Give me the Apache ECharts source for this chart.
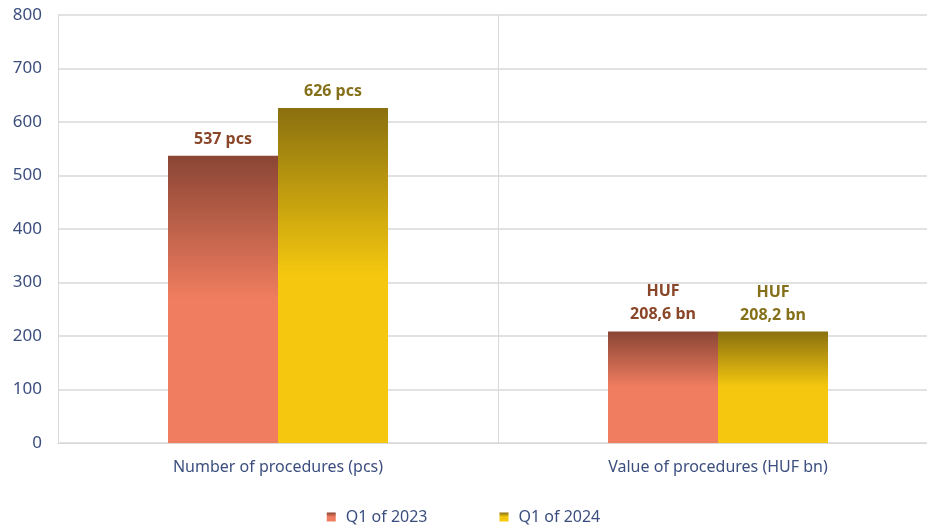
<!DOCTYPE html>
<html>
<head>
<meta charset="utf-8">
<script src="https://cdn.jsdelivr.net/npm/echarts@6/dist/echarts.min.js"></script>
<style>
  html, body { margin: 0; padding: 0; background: #fff; }
  #main { width: 927px; height: 529px; }
</style>
</head>
<body>
<div id="main"></div>
<script>
// chart data
const categories = ["Number of procedures (pcs)", "Value of procedures (HUF bn)"];
const q2023 = [537, 208.6];
const q2024 = [626, 208.2];
const labels2023 = ["537 pcs", "HUF\n208,6 bn"];
const labels2024 = ["626 pcs", "HUF\n208,2 bn"];
const seriesNames = ["Q1 of 2023", "Q1 of 2024"];

const textColor = "#3b4e7e";
const font = "Noto Sans";

function grad(top, bottom) {
  return new echarts.graphic.LinearGradient(0, 0, 0, 1, [
    { offset: 0, color: top },
    { offset: 0.5, color: bottom },
    { offset: 1, color: bottom }
  ]);
}

var myChart = echarts.init(document.getElementById("main"));
var option = {
  animation: false,
  grid: { left: 58, top: 15, bottom: 86, right: -11, outerBoundsMode: "none", containLabel: false },
  legend: {
    bottom: -1,
    left: "center",
    itemWidth: 9,
    itemHeight: 9,
    itemGap: 72,
    icon: "rect",
    textStyle: { color: textColor, fontSize: 16, fontFamily: font, padding: [0, 0, 0, 5] },
    data: seriesNames
  },
  xAxis: {
    type: "category",
    data: categories,
    axisLine: { lineStyle: { color: "#d9d9d9", width: 1 } },
    axisTick: { show: false },
    splitLine: { show: true, lineStyle: { color: "#d9d9d9" } },
    axisLabel: { color: textColor, fontSize: 16, fontFamily: font, margin: 16 }
  },
  yAxis: {
    type: "value",
    min: 0,
    max: 800,
    interval: 100,
    axisLine: { show: true, lineStyle: { color: "#d9d9d9" } },
    splitLine: { lineStyle: { color: "#d9d9d9", width: 1.5 } },
    axisLabel: { color: textColor, fontSize: 17, fontFamily: font, margin: 16 }
  },
  series: [
    {
      name: seriesNames[0],
      type: "bar",
      data: q2023,
      barWidth: 110,
      barGap: "0%",
      itemStyle: { color: grad("#8a4535", "#f07d5f") },
      label: {
        show: true,
        position: "top",
        distance: 5,
        formatter: p => labels2023[p.dataIndex],
        color: "#8a4628",
        fontWeight: "bold",
        fontSize: 16,
        lineHeight: 23,
        fontFamily: font
      }
    },
    {
      name: seriesNames[1],
      type: "bar",
      data: q2024,
      barWidth: 110,
      barGap: "0%",
      itemStyle: { color: grad("#8a700f", "#f5c80f") },
      label: {
        show: true,
        position: "top",
        distance: 5,
        formatter: p => labels2024[p.dataIndex],
        color: "#85701a",
        fontWeight: "bold",
        fontSize: 16,
        lineHeight: 23,
        fontFamily: font
      }
    }
  ]
};
option && myChart.setOption(option);
</script>
</body>
</html>
